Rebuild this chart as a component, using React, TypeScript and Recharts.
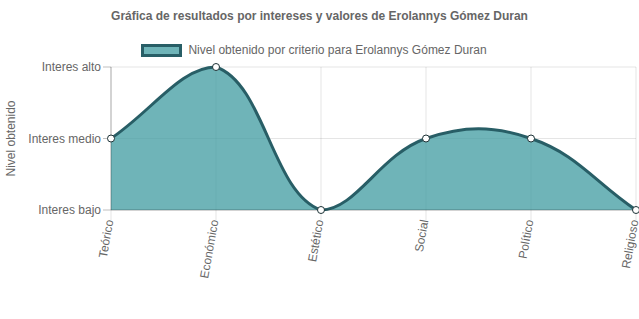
import { Area, AreaChart, CartesianGrid, Legend, XAxis, YAxis } from "recharts";

const chartFont = "'Liberation Sans', Arial, Helvetica, sans-serif";
const textColor = "#666";

const titulo = "Gráfica de resultados por intereses y valores de Erolannys Gómez Duran";
const serieNombre = "Nivel obtenido por criterio para Erolannys Gómez Duran";
const ejeY = "Nivel obtenido";

const criterios = ["Teórico", "Económico", "Estético", "Social", "Político", "Religioso"];
const nivel = [2, 3, 1, 2, 2, 1];
const nivelTicks = [1, 2, 3];
const nivelLabels = ["Interes bajo", "Interes medio", "Interes alto"];

const lineColor = "#285e66";
const fillColor = "rgb(63,155,160)";

// spline like the one chart.js draws (tension 0.4, control points kept in the plot)
function splineCurve(tension: number) {
  return (context: any) => {
    let xs: number[] = [];
    let ys: number[] = [];
    let line = NaN;
    return {
      areaStart() {
        line = 0;
      },
      areaEnd() {
        line = NaN;
      },
      lineStart() {
        xs = [];
        ys = [];
      },
      point(x: number, y: number) {
        xs.push(+x);
        ys.push(+y);
      },
      lineEnd() {
        const n = xs.length;
        if (n) {
          if (line) context.lineTo(xs[0], ys[0]);
          else context.moveTo(xs[0], ys[0]);
          const minX = Math.min(...xs);
          const maxX = Math.max(...xs);
          const minY = Math.min(...ys);
          const maxY = Math.max(...ys);
          const cx = (v: number) => Math.min(maxX, Math.max(minX, v));
          const cy = (v: number) => Math.min(maxY, Math.max(minY, v));
          const cp = xs.map((x, i) => {
            const y = ys[i];
            const px = xs[Math.max(i - 1, 0)];
            const py = ys[Math.max(i - 1, 0)];
            const nx = xs[Math.min(i + 1, n - 1)];
            const ny = ys[Math.min(i + 1, n - 1)];
            const d01 = Math.hypot(x - px, y - py);
            const d12 = Math.hypot(nx - x, ny - y);
            let s01 = d01 / (d01 + d12);
            let s12 = d12 / (d01 + d12);
            if (!isFinite(s01)) s01 = 0;
            if (!isFinite(s12)) s12 = 0;
            const fa = tension * s01;
            const fb = tension * s12;
            return {
              inX: cx(x - fa * (nx - px)),
              inY: cy(y - fa * (ny - py)),
              outX: cx(x + fb * (nx - px)),
              outY: cy(y + fb * (ny - py)),
            };
          });
          for (let i = 1; i < n; i++) {
            context.bezierCurveTo(cp[i - 1].outX, cp[i - 1].outY, cp[i].inX, cp[i].inY, xs[i], ys[i]);
          }
        }
        if (line || (line !== 0 && n === 1)) context.closePath();
        line = 1 - line;
      },
    };
  };
}

const data = criterios.map((criterio, i) => ({ criterio, nivel: nivel[i] }));

function XTick({ x, y, payload }: any) {
  return (
    <g transform={`translate(${x},${y})`}>
      <text
        transform="rotate(-80)"
        textAnchor="end"
        dy="0.2em"
        fill={textColor}
        fontSize={12}
        fontFamily={chartFont}
      >
        {payload.value}
      </text>
    </g>
  );
}

function Encabezado() {
  return (
    <div style={{ height: 60, fontFamily: chartFont, color: textColor, fontSize: 12 }}>
      <div style={{ height: 32, lineHeight: "32px", textAlign: "center", fontWeight: "bold" }}>
        {titulo}
      </div>
      <div
        style={{
          display: "flex",
          justifyContent: "center",
          alignItems: "center",
          height: 20,
          marginTop: 8,
          paddingRight: 11,
        }}
      >
        <span
          style={{
            display: "inline-block",
            width: 41,
            height: 13,
            boxSizing: "border-box",
            border: `3px solid ${lineColor}`,
            background: "rgba(63,155,160,0.75)",
            marginRight: 6,
          }}
        />
        <span>{serieNombre}</span>
      </div>
    </div>
  );
}

export default function App() {
  return (
    <div style={{ position: "absolute", left: 0, top: 0, background: "#fff" }}>
      <AreaChart
        width={639}
        height={319}
        data={data}
        margin={{ top: 7, right: 3, bottom: 0, left: 0 }}
      >
        <Legend
          verticalAlign="top"
          content={() => <Encabezado />}
          wrapperStyle={{ top: 0, left: 0, width: 639 }}
        />
        <CartesianGrid stroke="rgba(0,0,0,0.1)" />
        <XAxis
          dataKey="criterio"
          height={109}
          interval={0}
          tickSize={10}
          tickMargin={0}
          tick={<XTick />}
          axisLine={{ stroke: "rgba(0,0,0,0.25)" }}
          tickLine={{ stroke: "rgba(0,0,0,0.1)" }}
        />
        <YAxis
          type="number"
          domain={[1, 3]}
          ticks={nivelTicks}
          width={111}
          tickSize={8}
          tickMargin={2}
          tickFormatter={(v: number) => nivelLabels[nivelTicks.indexOf(v)]}
          tick={{ fill: textColor, fontSize: 12, fontFamily: chartFont }}
          axisLine={{ stroke: "rgba(0,0,0,0.25)" }}
          tickLine={{ stroke: "rgba(0,0,0,0.25)" }}
          label={{
            content: ({ viewBox }: any) => {
              const cx = 11;
              const cy = viewBox.y + viewBox.height / 2;
              return (
                <text
                  x={cx}
                  y={cy}
                  transform={`rotate(-90, ${cx}, ${cy})`}
                  textAnchor="middle"
                  dy="0.35em"
                  fill={textColor}
                  fontSize={12}
                  fontFamily={chartFont}
                >
                  {ejeY}
                </text>
              );
            },
          }}
        />
        <Area
          type={splineCurve(0.4) as any}
          dataKey="nivel"
          name={serieNombre}
          stroke={lineColor}
          strokeWidth={3}
          fill={fillColor}
          fillOpacity={0.75}
          dot={{ r: 3.5, fill: "#fff", stroke: "#1d3236", strokeWidth: 1, fillOpacity: 1 }}
          activeDot={false}
          isAnimationActive={false}
        />
      </AreaChart>
    </div>
  );
}
